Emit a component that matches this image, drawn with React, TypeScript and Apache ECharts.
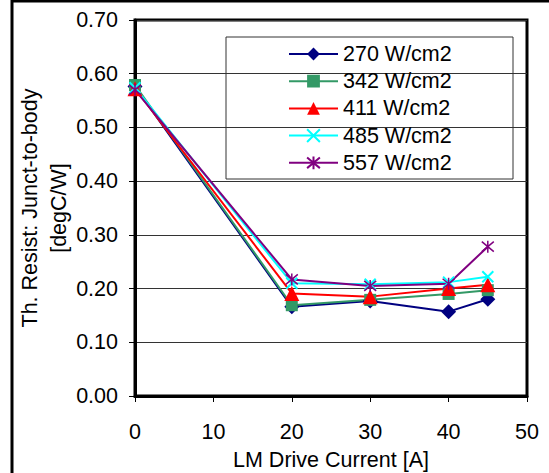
import React, { useEffect, useRef } from "react";
import * as echarts from "echarts";

const currents = [0, 20, 30, 40, 45];
const s270 = [0.576, 0.166, 0.177, 0.157, 0.18];
const s342 = [0.579, 0.169, 0.179, 0.19, 0.197];
const s411 = [0.572, 0.191, 0.185, 0.2, 0.207];
const s485 = [0.574, 0.21, 0.208, 0.212, 0.222];
const s557 = [0.57, 0.217, 0.205, 0.209, 0.278];
const seriesNames = ["270 W/cm2", "342 W/cm2", "411 W/cm2", "485 W/cm2", "557 W/cm2"];

const FONT = "Liberation Sans, Arial, sans-serif";
const FS = 21.5;
const xPath = "path://M0,0L10,10M10,0L0,10";
const starPath = "path://M0,0L10,10M10,0L0,10M5,-1L5,11";

export default function App() {
  const ref = useRef<HTMLDivElement>(null);
  useEffect(() => {
    const chart = echarts.init(ref.current!, null, { renderer: "svg" });
    const mk = (name: string, data: number[], color: string, symbol: string, size: number, extra: any = {}) => ({
      type: "line",
      name,
      data: currents.map((c, i) => [c, data[i]]),
      symbol,
      symbolSize: size,
      lineStyle: { color, width: 2 },
      itemStyle: { color, ...extra },
      z: 3,
    });
    chart.setOption({
      animation: false,
      textStyle: { fontFamily: FONT },
      grid: {
        left: 135, top: 20, right: 22, bottom: 77,
        show: true, borderColor: "#000", borderWidth: 3,
        containLabel: false, outerBoundsMode: "none",
      },
      xAxis: {
        type: "value", min: 0, max: 50, interval: 10,
        name: "LM Drive Current [A]", nameLocation: "middle", nameGap: 53,
        nameMoveOverlap: false,
        nameTextStyle: { fontSize: FS, color: "#000", fontFamily: FONT },
        axisLine: { show: true, lineStyle: { color: "#000", width: 3 } },
        axisTick: { show: true, length: 6, lineStyle: { color: "#000", width: 1 } },
        axisLabel: { fontSize: FS, color: "#000", margin: 25, fontFamily: FONT },
        splitLine: { show: false },
      },
      yAxis: {
        type: "value", min: 0, max: 0.7, interval: 0.1,
        name: "Th. Resist: Junct-to-body\n[degC/W]", nameLocation: "middle", nameGap: 62,
        nameRotate: 90, nameMoveOverlap: false,
        nameTextStyle: { fontSize: FS, color: "#000", lineHeight: 29, fontFamily: FONT },
        axisLine: { show: true, lineStyle: { color: "#000", width: 3 } },
        axisTick: { show: true, length: 6, lineStyle: { color: "#000", width: 1 } },
        axisLabel: { fontSize: FS, color: "#000", margin: 17, formatter: (v: number) => v.toFixed(2), fontFamily: FONT },
        splitLine: { show: true, lineStyle: { color: "#333", width: 1 } },
      },
      legend: {
        orient: "vertical", left: 288, top: 43, padding: 0,
        itemWidth: 49, itemHeight: 16, itemGap: 5.2,
        textStyle: { fontSize: FS, color: "#000", fontFamily: FONT },
        data: seriesNames,
      },
      graphic: [
        { type: "rect", shape: { x: 226, y: 37, width: 287, height: 142 }, style: { fill: "none", stroke: "#333", lineWidth: 1 }, z: 1 },
        { type: "rect", shape: { x: 12, y: 1, width: 600, height: 600 }, style: { fill: "none", stroke: "#000", lineWidth: 3 }, z: 1 },
      ],
      series: [
        mk(seriesNames[0], s270, "#000080", "diamond", 15),
        mk(seriesNames[1], s342, "#339966", "rect", 12),
        mk(seriesNames[2], s411, "#FF0000", "triangle", 15),
        mk(seriesNames[3], s485, "#00FFFF", xPath, 11, { borderColor: "#00FFFF", borderWidth: 2 }),
        mk(seriesNames[4], s557, "#800080", starPath, 12, { borderColor: "#800080", borderWidth: 1.5 }),
      ],
    });
    return () => chart.dispose();
  }, []);
  return <div ref={ref} style={{ position: "fixed", left: 0, top: 0, width: 549, height: 473, background: "#fff" }} />;
}
